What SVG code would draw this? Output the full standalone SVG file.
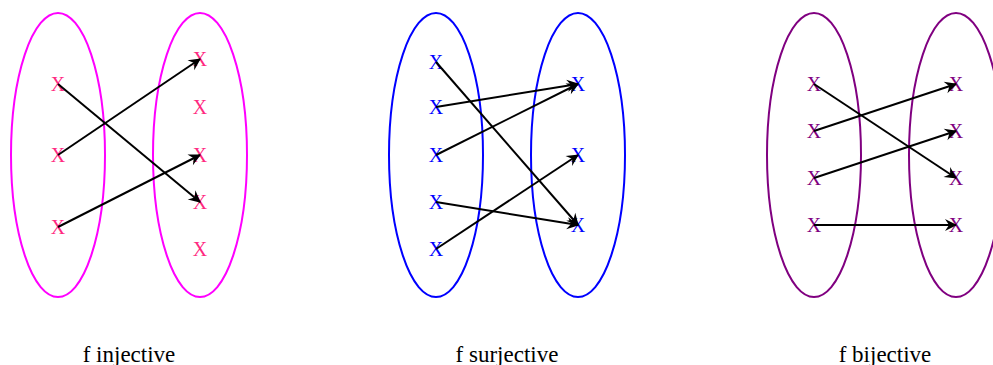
<svg xmlns="http://www.w3.org/2000/svg" width="993" height="365" viewBox="0 0 993 365">
<style>
.set{fill:none;stroke-width:2}
.x{font-family:"Liberation Serif","Times New Roman",serif;font-size:20px;text-anchor:middle}
.lbl{font-family:"Liberation Serif","Times New Roman",serif;font-size:23px;text-anchor:middle;fill:#000}
.c{stroke:#000;stroke-width:2;fill:none;marker-end:url(#ah)}
</style>
<defs>
<marker id="ah" markerUnits="userSpaceOnUse" viewBox="-12 -7 14 14" refX="0" refY="0" markerWidth="14" markerHeight="14" orient="auto">
<path d="M1,0 L-11,-6 L-7,0 L-11,6 Z" fill="#000"/>
</marker>
</defs>
<rect width="993" height="365" fill="#fff"/>
<g id="injective">
<ellipse class="set" cx="58" cy="155" rx="47" ry="142" stroke="#ff00ff"/>
<ellipse class="set" cx="200" cy="155" rx="47" ry="142" stroke="#ff00ff"/>
<g class="x" fill="#ff2a7f">
<text x="58" y="91">X</text><text x="58" y="162">X</text><text x="58" y="234">X</text>
<text x="200" y="66">X</text><text x="200" y="114">X</text><text x="200" y="162">X</text><text x="200" y="209">X</text><text x="200" y="256">X</text>
</g>
<text class="lbl" x="129" y="362">f injective</text>
</g>
<g id="surjective">
<ellipse class="set" cx="436" cy="155" rx="47" ry="142" stroke="#0000ff"/>
<ellipse class="set" cx="578" cy="155" rx="47" ry="142" stroke="#0000ff"/>
<g class="x" fill="#0000ff">
<text x="436" y="69">X</text><text x="436" y="114">X</text><text x="436" y="162">X</text><text x="436" y="209">X</text><text x="436" y="256">X</text>
<text x="578" y="91">X</text><text x="578" y="162">X</text><text x="578" y="232">X</text>
</g>
<text class="lbl" x="507" y="362">f surjective</text>
</g>
<g id="bijective">
<ellipse class="set" cx="814" cy="155" rx="47" ry="142" stroke="#800080"/>
<ellipse class="set" cx="956" cy="155" rx="47" ry="142" stroke="#800080"/>
<g class="x" fill="#800080">
<text x="814" y="91">X</text><text x="814" y="138">X</text><text x="814" y="185">X</text><text x="814" y="232">X</text>
<text x="956" y="91">X</text><text x="956" y="138">X</text><text x="956" y="185">X</text><text x="956" y="232">X</text>
</g>
<text class="lbl" x="885" y="362">f bijective</text>
</g>
<g id="connectors">
<line class="c" x1="58" y1="84" x2="200" y2="202"/>
<line class="c" x1="58" y1="155" x2="200" y2="59"/>
<line class="c" x1="58" y1="227" x2="200" y2="155"/>
<line class="c" x1="436" y1="62" x2="578" y2="225"/>
<line class="c" x1="436" y1="107" x2="578" y2="84"/>
<line class="c" x1="436" y1="155" x2="578" y2="84"/>
<line class="c" x1="436" y1="202" x2="578" y2="225"/>
<line class="c" x1="436" y1="249" x2="578" y2="155"/>
<line class="c" x1="814" y1="84" x2="956" y2="178"/>
<line class="c" x1="814" y1="131" x2="956" y2="84"/>
<line class="c" x1="814" y1="178" x2="956" y2="131"/>
<line class="c" x1="814" y1="225" x2="956" y2="225"/>
</g>
</svg>
